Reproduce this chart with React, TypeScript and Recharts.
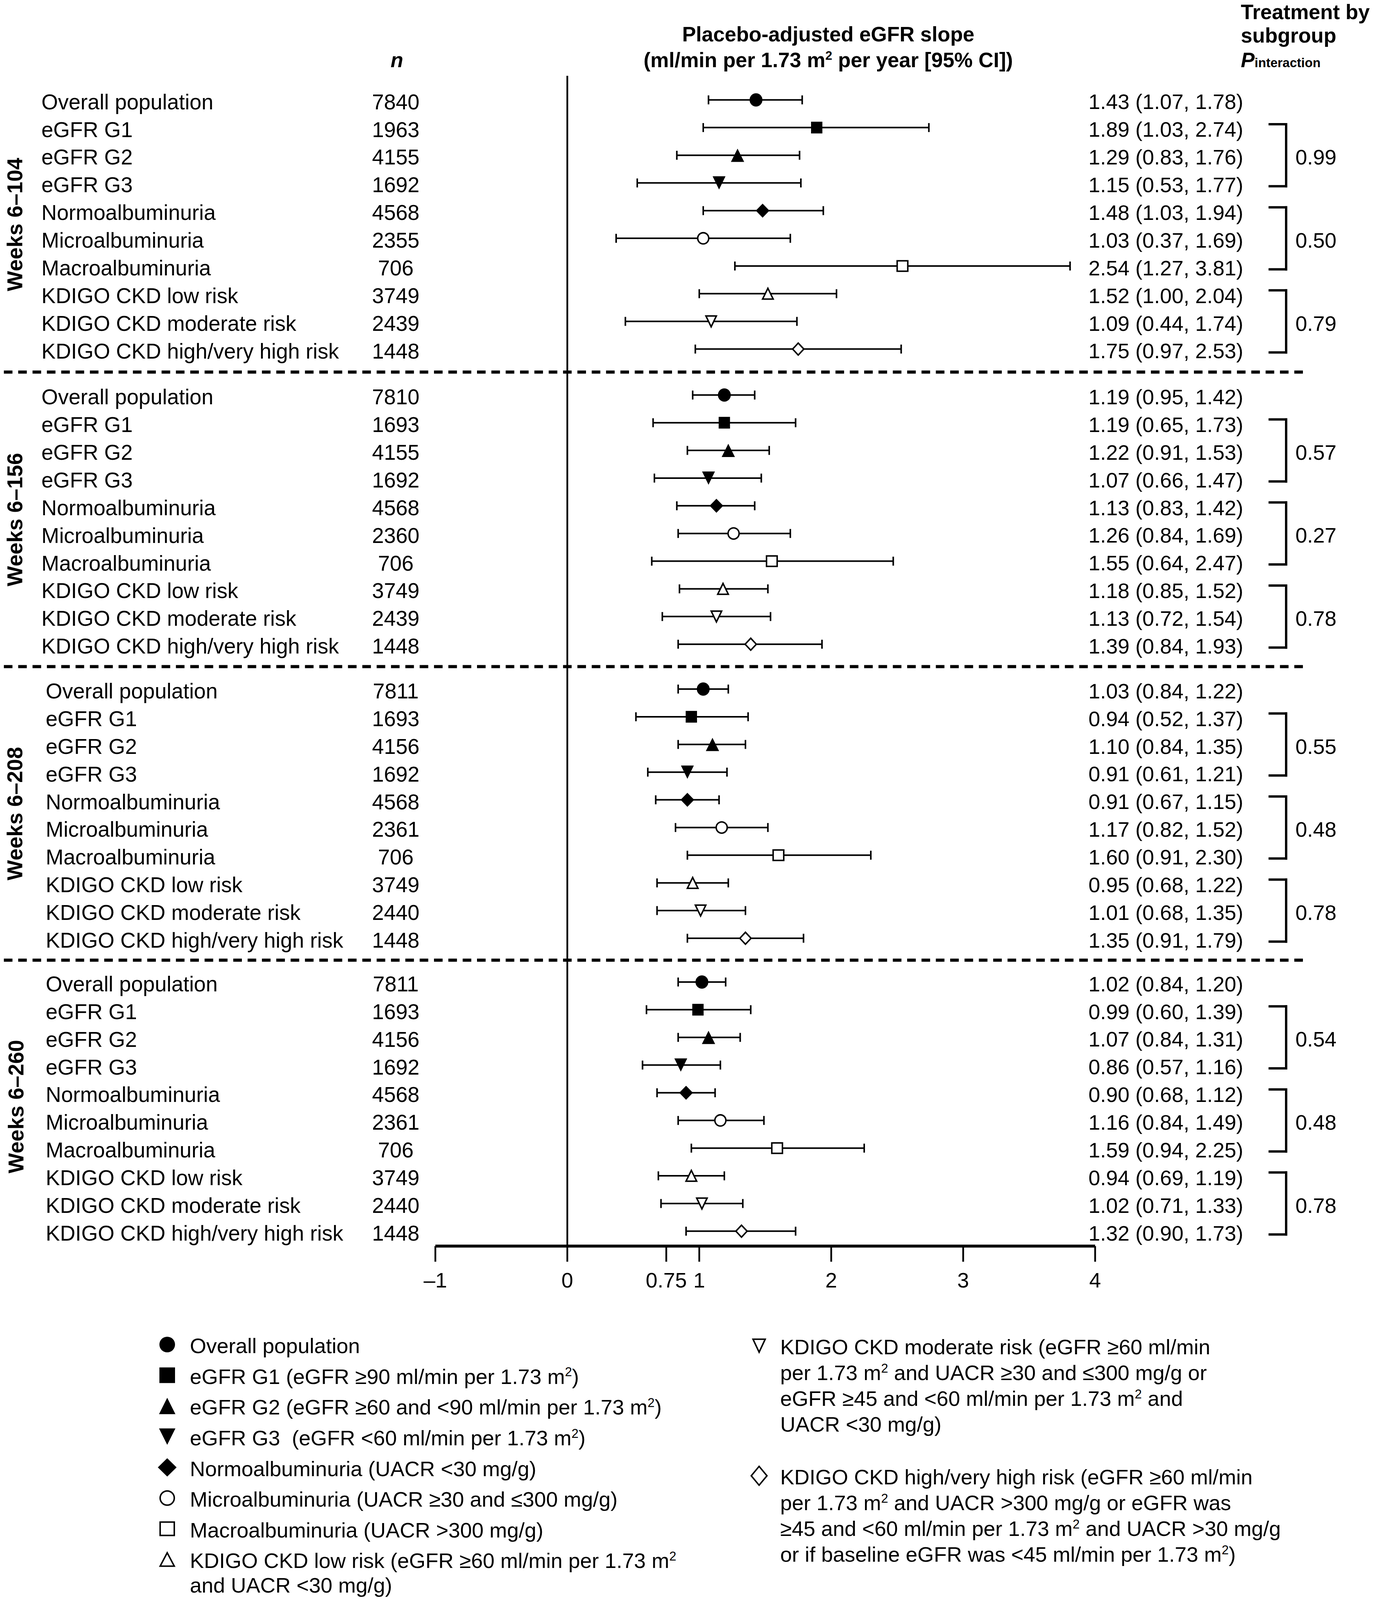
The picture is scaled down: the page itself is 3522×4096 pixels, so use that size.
import { ErrorBar, ReferenceLine, Scatter, ScatterChart, XAxis, YAxis } from 'recharts'

// ---- data ----
const periods = ['Weeks 6–104', 'Weeks 6–156', 'Weeks 6–208', 'Weeks 6–260']

const subgroups = [
  'Overall population',
  'eGFR G1',
  'eGFR G2',
  'eGFR G3',
  'Normoalbuminuria',
  'Microalbuminuria',
  'Macroalbuminuria',
  'KDIGO CKD low risk',
  'KDIGO CKD moderate risk',
  'KDIGO CKD high/very high risk',
]

const markerTypes = [
  'circle',
  'square',
  'triangle',
  'triangleDown',
  'diamond',
  'circleOpen',
  'squareOpen',
  'triangleOpen',
  'triangleDownOpen',
  'diamondOpen',
]

const nByPeriod = [
  [7840, 1963, 4155, 1692, 4568, 2355, 706, 3749, 2439, 1448],
  [7810, 1693, 4155, 1692, 4568, 2360, 706, 3749, 2439, 1448],
  [7811, 1693, 4156, 1692, 4568, 2361, 706, 3749, 2440, 1448],
  [7811, 1693, 4156, 1692, 4568, 2361, 706, 3749, 2440, 1448],
]

const estByPeriod = [
  [1.43, 1.89, 1.29, 1.15, 1.48, 1.03, 2.54, 1.52, 1.09, 1.75],
  [1.19, 1.19, 1.22, 1.07, 1.13, 1.26, 1.55, 1.18, 1.13, 1.39],
  [1.03, 0.94, 1.1, 0.91, 0.91, 1.17, 1.6, 0.95, 1.01, 1.35],
  [1.02, 0.99, 1.07, 0.86, 0.9, 1.16, 1.59, 0.94, 1.02, 1.32],
]

const lowByPeriod = [
  [1.07, 1.03, 0.83, 0.53, 1.03, 0.37, 1.27, 1.0, 0.44, 0.97],
  [0.95, 0.65, 0.91, 0.66, 0.83, 0.84, 0.64, 0.85, 0.72, 0.84],
  [0.84, 0.52, 0.84, 0.61, 0.67, 0.82, 0.91, 0.68, 0.68, 0.91],
  [0.84, 0.6, 0.84, 0.57, 0.68, 0.84, 0.94, 0.69, 0.71, 0.9],
]

const highByPeriod = [
  [1.78, 2.74, 1.76, 1.77, 1.94, 1.69, 3.81, 2.04, 1.74, 2.53],
  [1.42, 1.73, 1.53, 1.47, 1.42, 1.69, 2.47, 1.52, 1.54, 1.93],
  [1.22, 1.37, 1.35, 1.21, 1.15, 1.52, 2.3, 1.22, 1.35, 1.79],
  [1.2, 1.39, 1.31, 1.16, 1.12, 1.49, 2.25, 1.19, 1.33, 1.73],
]

const pByPeriod = [
  ['0.99', '0.50', '0.79'],
  ['0.57', '0.27', '0.78'],
  ['0.55', '0.48', '0.78'],
  ['0.54', '0.48', '0.78'],
]

const bracketRows = [
  [1, 3],
  [4, 6],
  [7, 9],
]

const xTicks = [-1, 0, 0.75, 1, 2, 3, 4]

const legendLeft = [
  { marker: 'circle', lines: ['Overall population'] },
  { marker: 'square', lines: ['eGFR G1 (eGFR ≥90 ml/min per 1.73 m²)'] },
  { marker: 'triangle', lines: ['eGFR G2 (eGFR ≥60 and <90 ml/min per 1.73 m²)'] },
  { marker: 'triangleDown', lines: ['eGFR G3  (eGFR <60 ml/min per 1.73 m²)'] },
  { marker: 'diamond', lines: ['Normoalbuminuria (UACR <30 mg/g)'] },
  { marker: 'circleOpen', lines: ['Microalbuminuria (UACR ≥30 and ≤300 mg/g)'] },
  { marker: 'squareOpen', lines: ['Macroalbuminuria (UACR >300 mg/g)'] },
  { marker: 'triangleOpen', lines: ['KDIGO CKD low risk (eGFR ≥60 ml/min per 1.73 m²', 'and UACR <30 mg/g)'] },
]

const legendRight = [
  {
    marker: 'triangleDownOpen',
    lines: [
      'KDIGO CKD moderate risk (eGFR ≥60 ml/min',
      'per 1.73 m² and UACR ≥30 and ≤300 mg/g or',
      'eGFR ≥45 and <60 ml/min per 1.73 m² and',
      'UACR <30 mg/g)',
    ],
  },
  {
    marker: 'diamondOpen',
    lines: [
      'KDIGO CKD high/very high risk (eGFR ≥60 ml/min',
      'per 1.73 m² and UACR >300 mg/g or eGFR was',
      '≥45 and <60 ml/min per 1.73 m² and UACR >30 mg/g',
      'or if baseline eGFR was <45 ml/min per 1.73 m²)',
    ],
  },
]

// ---- layout ----
const W = 3522
const H = 4096
const CHART_H = 3340
const X_AXIS_H = 150
const Y_AXIS_W = 1
const X_DOMAIN: [number, number] = [-4.2963, 6.1285]
const Y_TOP = -3.6075
const Y_BOTTOM = 41.398
const GROUP_START = [0, 10.66, 21.28, 31.86]
const ZERO_TOP = -0.87
const FONT = "'Liberation Sans', Arial, Helvetica, sans-serif"
const FS = 54
const ROW_FS = 54.6
const HFS = 53

const LABEL_X = [106, 106, 117, 117]
const PERIOD_X = [57, 57, 57, 60]
const N_X = 1013
const CI_X = 2786
const BRACKET_X = 5.4475
const ARM_X = 5.3231
const P_X = 5.5175
const SEP_X: [number, number] = [-4.27, 5.593]

const plotSize: Record<string, [number, number]> = {
  circle: [33, 34],
  square: [29, 30],
  triangle: [34, 34],
  triangleDown: [33, 34],
  diamond: [35, 36],
  circleOpen: [32, 32.5],
  squareOpen: [31, 30.5],
  triangleOpen: [31, 31.5],
  triangleDownOpen: [30.5, 31.5],
  diamondOpen: [32.5, 34.5],
}

const legendSize: Record<string, [number, number]> = {
  circle: [40, 40],
  square: [40, 40],
  triangle: [42, 42],
  triangleDown: [42, 42],
  diamond: [48, 47],
  circleOpen: [40, 40],
  squareOpen: [40, 38],
  triangleOpen: [40, 38],
  triangleDownOpen: [35, 37],
  diamondOpen: [44, 52],
}

const rows = periods.flatMap((_, g) =>
  subgroups.map((label, r) => {
    const est = estByPeriod[g][r]
    const lo = lowByPeriod[g][r]
    const hi = highByPeriod[g][r]
    return {
      g,
      r,
      y: GROUP_START[g] + r,
      x: est,
      err: [est - lo, hi - est],
      label,
      n: nByPeriod[g][r],
      ci: `${est.toFixed(2)} (${lo.toFixed(2)}, ${hi.toFixed(2)})`,
      marker: markerTypes[r],
    }
  }),
)

const pLabels = periods.flatMap((_, g) =>
  bracketRows.map(([a, b], i) => ({
    x: P_X,
    y: GROUP_START[g] + (a + b) / 2,
    p: pByPeriod[g][i],
  })),
)

const brackets = periods.flatMap((_, g) =>
  bracketRows.map(([a, b]) => [GROUP_START[g] + a - 0.12, GROUP_START[g] + b + 0.12]),
)

const separators = [1, 2, 3].map((g) => (GROUP_START[g - 1] + 9 + GROUP_START[g]) / 2)

type TickInfo = { kind: 'row'; row: (typeof rows)[number] } | { kind: 'period'; text: string; g: number }
const tickInfo = new Map<number, TickInfo>()
rows.forEach((row) => tickInfo.set(row.y, { kind: 'row', row }))
periods.forEach((text, g) => tickInfo.set(GROUP_START[g] + 4.5, { kind: 'period', text, g }))
const yTicks = Array.from(tickInfo.keys()).sort((a, b) => a - b)

function findTick(v: number): TickInfo | undefined {
  const exact = tickInfo.get(v)
  if (exact) return exact
  for (const [k, info] of tickInfo) if (Math.abs(k - v) < 1e-6) return info
  return undefined
}

function withSup(text: string, size: number) {
  const parts = text.split('²')
  const out: any[] = []
  parts.forEach((p, i) => {
    if (i > 0) {
      out.push(
        <tspan key={`s${i}`} fontSize={size * 0.6} dy={-size * 0.36}>
          2
        </tspan>,
      )
      if (p) {
        out.push(
          <tspan key={`t${i}`} dy={size * 0.36}>
            {p}
          </tspan>,
        )
      }
    } else {
      out.push(<tspan key='t0'>{p}</tspan>)
    }
  })
  return out
}

function Marker({ type, cx, cy, w, h }: { type: string; cx: number; cy: number; w: number; h: number }) {
  const open = type.endsWith('Open')
  const sw = open ? 3.8 : 0
  const hw = (w - sw) / 2
  const hh = (h - sw) / 2
  const common = {
    fill: open ? '#fff' : '#000',
    stroke: open ? '#000' : 'none',
    strokeWidth: sw,
  }
  const base = type.replace('Open', '')
  if (base === 'circle') return <ellipse cx={cx} cy={cy} rx={hw} ry={hh} {...common} />
  if (base === 'square') return <rect x={cx - hw} y={cy - hh} width={hw * 2} height={hh * 2} {...common} />
  if (base === 'triangle')
    return <polygon points={`${cx},${cy - hh} ${cx + hw},${cy + hh} ${cx - hw},${cy + hh}`} {...common} />
  if (base === 'triangleDown')
    return <polygon points={`${cx},${cy + hh} ${cx + hw},${cy - hh} ${cx - hw},${cy - hh}`} {...common} />
  return <polygon points={`${cx},${cy - hh} ${cx + hw},${cy} ${cx},${cy + hh} ${cx - hw},${cy}`} {...common} />
}

const renderMarker = (props: any) => {
  const { cx, cy, payload } = props
  const [w, h] = plotSize[payload.marker]
  return <Marker type={payload.marker} cx={cx} cy={cy} w={w} h={h} />
}

const renderP = (props: any) => (
  <text x={props.cx} y={props.cy} dy='0.44em' fontSize={FS} fontFamily={FONT} fill='#000'>
    {props.payload.p}
  </text>
)

const renderXTick = (props: any) => {
  const { x, y, payload } = props
  const v = payload.value as number
  const label = v < 0 ? `–${Math.abs(v)}` : String(v)
  return (
    <g>
      <line x1={x} x2={x} y1={y} y2={y + 40} stroke='#000' strokeWidth={4.5} />
      <text x={x} y={y + 106} textAnchor='middle' fontSize={FS} fontFamily={FONT} fill='#000'>
        {label}
      </text>
    </g>
  )
}

const renderYTick = (props: any) => {
  const { y, payload } = props
  const info = findTick(payload.value)
  if (!info) return <g />
  if (info.kind === 'period') {
    const px = PERIOD_X[info.g]
    return (
      <text
        x={px}
        y={y}
        transform={`rotate(-90 ${px} ${y})`}
        textAnchor='middle'
        fontWeight='bold'
        fontSize={55}
        fontFamily={FONT}
        fill='#000'
      >
        {info.text}
      </text>
    )
  }
  const row = info.row
  return (
    <g fontSize={ROW_FS} fontFamily={FONT} fill='#000'>
      <text x={LABEL_X[row.g]} y={y} dy='0.44em'>
        {row.label}
      </text>
      <text x={N_X} y={y} dy='0.44em' textAnchor='middle'>
        {row.n}
      </text>
      <text x={CI_X} y={y} dy='0.44em' fontSize={FS}>
        {row.ci}
      </text>
    </g>
  )
}

function Legend() {
  const leftTop = 3442
  const leftStep = 78.6
  const rightTops = [3445, 3778]
  const lineStep = 66
  return (
    <g fontSize={FS} fontFamily={FONT} fill='#000'>
      {legendLeft.map((item, i) => {
        const cy = leftTop + i * leftStep
        const [w, h] = legendSize[item.marker]
        return (
          <g key={`l${i}`}>
            <Marker type={item.marker} cx={428} cy={cy} w={w} h={h} />
            {item.lines.map((line, j) => (
              <text key={j} x={486} y={cy + j * 63} dy='0.41em' xmlSpace='preserve'>
                {withSup(line, FS)}
              </text>
            ))}
          </g>
        )
      })}
      {legendRight.map((item, i) => {
        const cy = rightTops[i]
        const [w, h] = legendSize[item.marker]
        return (
          <g key={`r${i}`}>
            <Marker type={item.marker} cx={1943} cy={cy} w={w} h={h} />
            {item.lines.map((line, j) => (
              <text key={j} x={1997} y={cy + j * lineStep} dy='0.41em' xmlSpace='preserve'>
                {withSup(line, FS)}
              </text>
            ))}
          </g>
        )
      })}
    </g>
  )
}

export default function App() {
  return (
    <div style={{ position: 'relative', width: W, height: H, background: '#fff', fontFamily: FONT }}>
      <style>{'body{margin:0;background:#fff}'}</style>
      <ScatterChart width={W} height={CHART_H} margin={{ top: 0, right: 0, bottom: 0, left: 0 }}>
        <XAxis
          type='number'
          dataKey='x'
          domain={X_DOMAIN}
          allowDataOverflow
          ticks={xTicks}
          interval={0}
          axisLine={false}
          tickLine={false}
          tickSize={0}
          tickMargin={0}
          height={X_AXIS_H}
          tick={renderXTick}
        />
        <YAxis
          type='number'
          dataKey='y'
          domain={[Y_TOP, Y_BOTTOM]}
          allowDataOverflow
          reversed
          ticks={yTicks}
          interval={0}
          axisLine={false}
          tickLine={false}
          tickSize={0}
          tickMargin={0}
          width={Y_AXIS_W}
          tick={renderYTick}
        />
        {separators.map((s, i) => (
          <ReferenceLine
            key={`sep${i}`}
            segment={[
              { x: SEP_X[0], y: s },
              { x: SEP_X[1], y: s },
            ]}
            stroke='#000'
            strokeWidth={8}
            strokeDasharray='22 14.7'
            ifOverflow='visible'
          />
        ))}
        <ReferenceLine
          segment={[
            { x: 0, y: ZERO_TOP },
            { x: 0, y: Y_BOTTOM },
          ]}
          stroke='#000'
          strokeWidth={4.5}
          ifOverflow='visible'
        />
        <ReferenceLine
          segment={[
            { x: -1, y: Y_BOTTOM },
            { x: 4, y: Y_BOTTOM },
          ]}
          stroke='#000'
          strokeWidth={7.5}
          ifOverflow='visible'
        />
        {brackets.flatMap(([top, bottom], i) => [
          <ReferenceLine
            key={`bt${i}`}
            segment={[
              { x: ARM_X, y: top },
              { x: BRACKET_X, y: top },
            ]}
            stroke='#000'
            strokeWidth={6}
            strokeLinecap='square'
            ifOverflow='visible'
          />,
          <ReferenceLine
            key={`bv${i}`}
            segment={[
              { x: BRACKET_X, y: top },
              { x: BRACKET_X, y: bottom },
            ]}
            stroke='#000'
            strokeWidth={6}
            strokeLinecap='square'
            ifOverflow='visible'
          />,
          <ReferenceLine
            key={`bb${i}`}
            segment={[
              { x: ARM_X, y: bottom },
              { x: BRACKET_X, y: bottom },
            ]}
            stroke='#000'
            strokeWidth={6}
            strokeLinecap='square'
            ifOverflow='visible'
          />,
        ])}
        <Scatter data={rows} isAnimationActive={false} shape={renderMarker}>
          <ErrorBar dataKey='err' direction='x' width={11.5} stroke='#000' strokeWidth={4} isAnimationActive={false} />
        </Scatter>
        <Scatter data={pLabels} isAnimationActive={false} shape={renderP} />
      </ScatterChart>
      <svg
        width={W}
        height={H}
        style={{ position: 'absolute', left: 0, top: 0, pointerEvents: 'none' }}
        fontFamily={FONT}
      >
        <g fontWeight='bold' fontSize={HFS} fill='#000'>
          <text x={2120} y={106} textAnchor='middle'>
            Placebo-adjusted eGFR slope
          </text>
          <text x={2120} y={172} textAnchor='middle'>
            {withSup('(ml/min per 1.73 m² per year [95% CI])', HFS)}
          </text>
          <text x={1016} y={172} textAnchor='middle' fontStyle='italic'>
            n
          </text>
          <text x={3176} y={49}>
            Treatment by
          </text>
          <text x={3176} y={109}>
            subgroup
          </text>
          <text x={3176} y={172}>
            <tspan fontStyle='italic'>P</tspan>
            <tspan fontSize={33}>interaction</tspan>
          </text>
        </g>
        <Legend />
      </svg>
    </div>
  )
}
